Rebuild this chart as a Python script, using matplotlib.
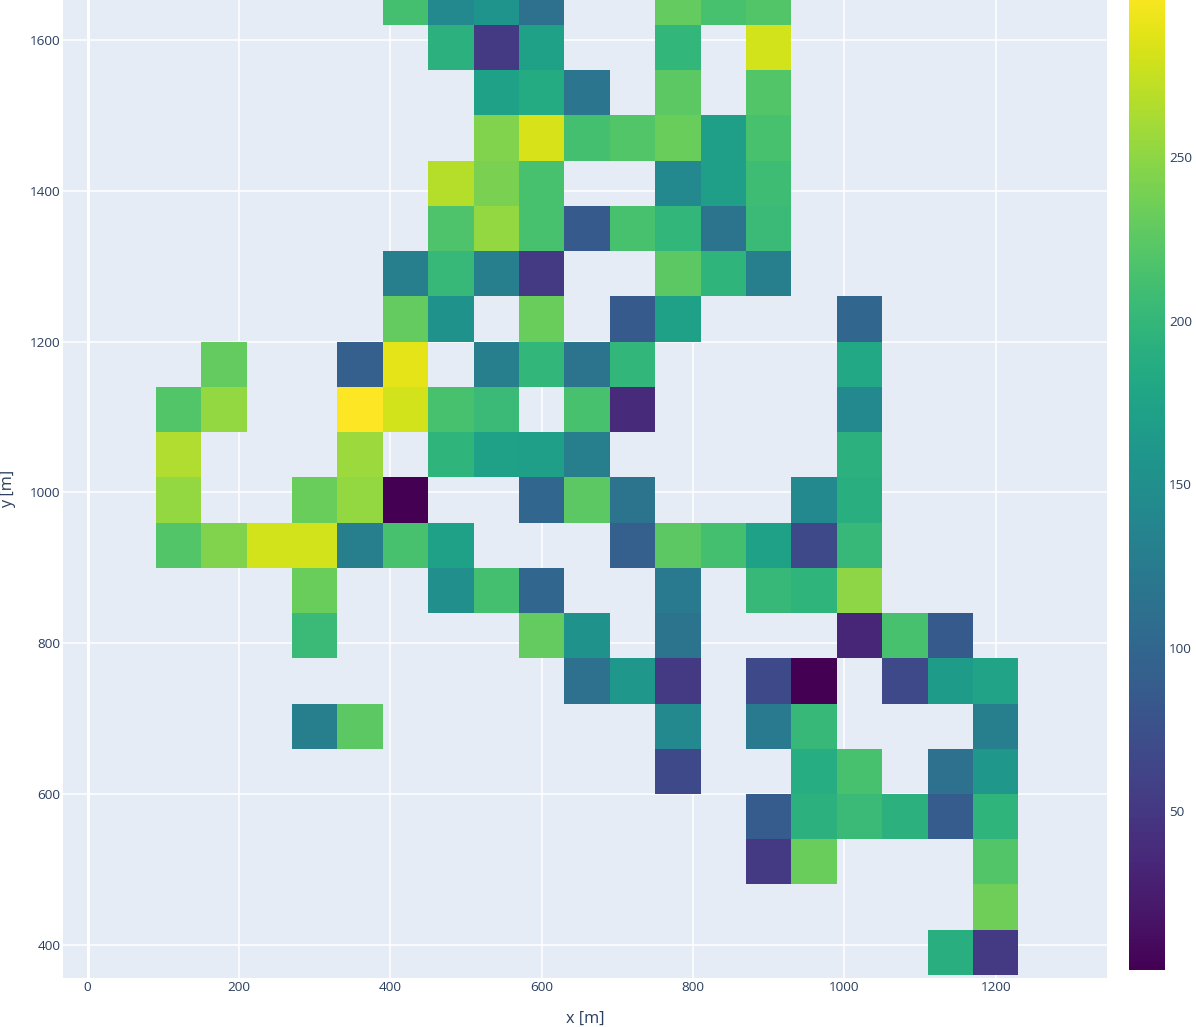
import numpy as np
import matplotlib
matplotlib.use("Agg")
import matplotlib.pyplot as plt

# cell centres (m)
x_centers = [120, 180, 240, 300, 360, 420, 480, 540, 600, 660,
             720, 780, 840, 900, 960, 1020, 1080, 1140, 1200]
y_centers = [1650, 1590, 1530, 1470, 1410, 1350, 1290, 1230, 1170, 1110, 1050,
             990, 930, 870, 810, 750, 690, 630, 570, 510, 450, 390]

# values per row, top row first, keyed by column index
row_values = [
    {5: 211, 6: 142, 7: 157, 8: 112, 11: 229, 12: 214, 13: 220},
    {6: 193, 7: 52, 8: 172, 11: 199, 13: 280},
    {7: 172, 8: 184, 9: 118, 11: 226, 13: 220},
    {7: 244, 8: 283, 9: 211, 10: 220, 11: 232, 12: 169, 13: 214},
    {6: 268, 7: 241, 8: 214, 11: 142, 12: 169, 13: 208},
    {6: 217, 7: 253, 8: 214, 9: 85, 10: 214, 11: 199, 12: 115, 13: 205},
    {5: 130, 6: 202, 7: 130, 8: 52, 11: 226, 12: 196, 13: 130},
    {5: 229, 6: 154, 8: 232, 10: 85, 11: 172, 15: 100},
    {1: 229, 4: 91, 5: 289, 7: 130, 8: 199, 9: 115, 10: 199, 15: 181},
    {0: 220, 1: 253, 4: 301, 5: 280, 6: 214, 7: 205, 9: 214, 10: 37, 15: 142},
    {0: 265, 4: 256, 6: 196, 7: 172, 8: 169, 9: 130, 15: 193},
    {0: 253, 3: 232, 4: 253, 5: 1.4, 8: 100, 9: 226, 10: 115, 14: 142, 15: 190},
    {0: 220, 1: 244, 2: 280, 3: 280, 4: 130, 5: 214, 6: 172, 10: 91, 11: 226,
     12: 211, 13: 172, 14: 67, 15: 202},
    {3: 232, 6: 151, 7: 211, 8: 100, 11: 124, 13: 202, 14: 196, 15: 250},
    {3: 205, 8: 229, 9: 154, 11: 115, 15: 34, 16: 214, 17: 85},
    {9: 112, 10: 160, 11: 52, 13: 67, 14: 1.4, 16: 67, 17: 166, 18: 175},
    {3: 130, 4: 226, 11: 142, 13: 124, 14: 202, 18: 130},
    {11: 67, 14: 187, 15: 214, 17: 112, 18: 160},
    {13: 88, 14: 193, 15: 205, 16: 193, 17: 88, 18: 196},
    {13: 52, 14: 232, 18: 220},
    {18: 235},
    {17: 190, 18: 52},
]

z = np.full((len(y_centers), len(x_centers)), np.nan)
for r, row in enumerate(row_values):
    for c, v in row.items():
        z[r, c] = v

xc = np.array(x_centers, dtype=float)
yc = np.array(y_centers, dtype=float)
dx = xc[1] - xc[0]
dy = yc[0] - yc[1]
x_edges = np.append(xc - dx / 2, xc[-1] + dx / 2)
y_edges = np.append(yc + dy / 2, yc[-1] - dy / 2)

plt.rcParams["font.family"] = ["Open Sans", "DejaVu Sans"]
text_color = "#2a3f5f"

fig = plt.figure(figsize=(11.96, 10.27), dpi=100)
W, H = 1196, 1027
ax = fig.add_axes([63 / W, (H - 978) / H, (1107 - 63) / W, 978 / H])
ax.set_facecolor("#E5ECF6")

ax.set_xticks([0, 200, 400, 600, 800, 1000, 1200])
ax.set_yticks([400, 600, 800, 1000, 1200, 1400, 1600])
ax.grid(True, color="white", linewidth=1.1, zorder=0)
ax.set_axisbelow(True)
ax.axvline(0, color="white", linewidth=2.2, zorder=0.5)

mesh = ax.pcolormesh(x_edges, y_edges, np.ma.masked_invalid(z), cmap="viridis",
                     vmin=1.4, vmax=301, zorder=1)

ax.set_xlim(-32.6, 1347)
ax.set_ylim(356, 1653)
for s in ax.spines.values():
    s.set_visible(False)
ax.tick_params(length=0, labelsize=9.7, colors=text_color, pad=2)
ax.set_xlabel("x [m]", fontsize=11.7, color=text_color, labelpad=12)
ax.set_ylabel("y [m]", fontsize=11.7, color=text_color, labelpad=10)

cax = fig.add_axes([1129 / W, (H - 970) / H, 36 / W, (970 + 9.7) / H])
cb = fig.colorbar(mesh, cax=cax)
cb.outline.set_visible(False)
cb.set_ticks([50, 100, 150, 200, 250, 300])
cax.tick_params(length=0, labelsize=9.7, colors=text_color, pad=3)

fig.savefig("out.png", dpi=100)
